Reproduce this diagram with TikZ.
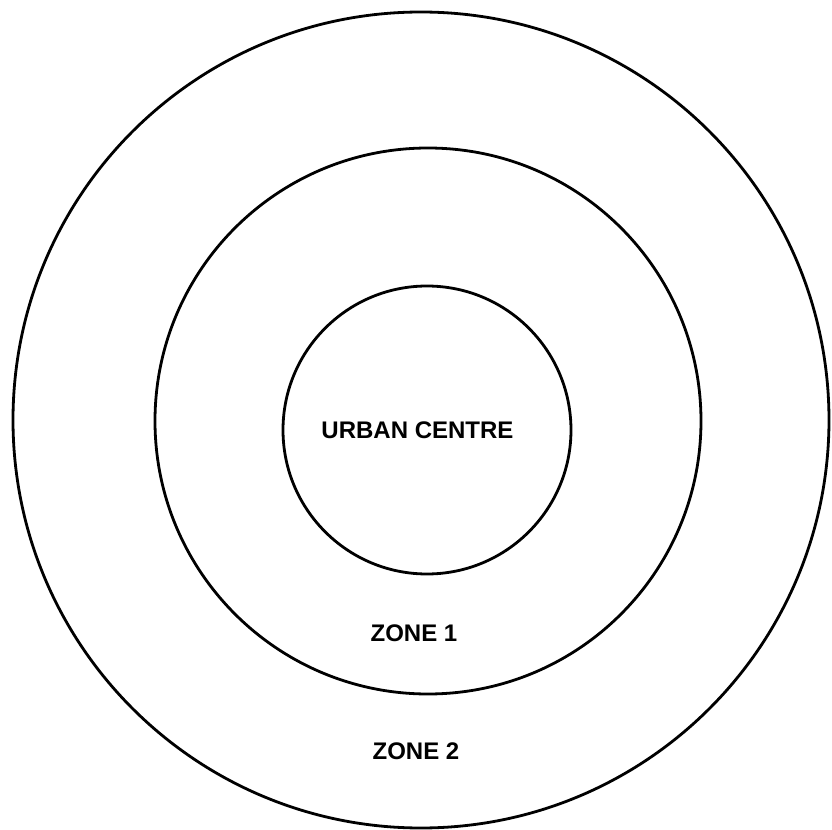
\documentclass[tikz,border=0pt]{standalone}
\usepackage{fontspec}
\setmainfont{Liberation Sans}
\usetikzlibrary{positioning}

\tikzset{
  ring/.style={draw, circle, line width=1.4pt, inner sep=0pt},
  zonelabel/.style={inner sep=0pt, font=\bfseries\fontsize{12}{14}\selectfont}
}

\begin{document}
\begin{tikzpicture}[x=0.5pt, y=-0.5pt]
    \useasboundingbox (0,0) rectangle (832,830);

    % rings
    \node [ring, minimum size=408pt] (zone2) at (421,420) {};
    \node [ring, minimum size=273pt] (zone1) at (428,421) {};
    \node [ring, minimum size=144pt] (centre) at (427,430) {};

    % labels
    \node [zonelabel] (centrelabel) at (417.5,430) {URBAN CENTRE};
    \node [zonelabel] (zone1label) at (414,633) {ZONE 1};
    \node [zonelabel] (zone2label) at (416,751) {ZONE 2};
\end{tikzpicture}
\end{document}
